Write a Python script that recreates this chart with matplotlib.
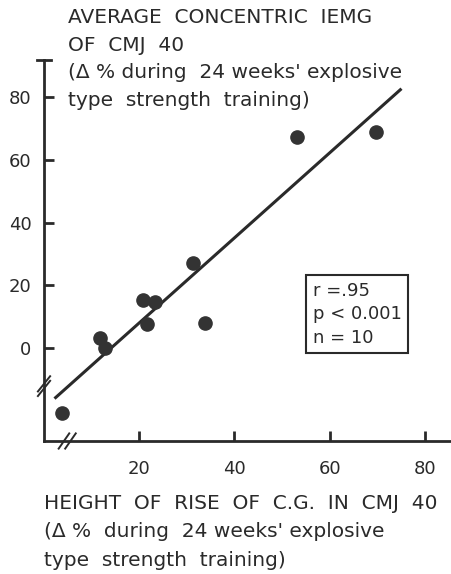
import numpy as np
import matplotlib.pyplot as plt

# height of rise of C.G. (delta %) vs average concentric IEMG (delta %)
rise_pct = [3.8, 11.8, 12.9, 20.8, 21.7, 23.4, 31.2, 33.9, 53.1, 69.7]
iemg_pct = [-20.8, 3.1, -0.1, 15.3, 7.7, 14.8, 27.0, 8.1, 67.4, 69.0]
fit_range = [2.2, 75.1]

x_ticks = [20, 40, 60, 80]
y_ticks = [0, 20, 40, 60, 80]

ink = '#2a2a2a'
plt.rcParams['font.family'] = ['DejaVu Sans']

fig = plt.figure(figsize=(4.51, 5.74), dpi=100)
ax = fig.add_axes([0.0976, 0.2317, 0.9024, 0.6638])

slope, icpt = np.polyfit(rise_pct, iemg_pct, 1)
fx = np.array(fit_range)
ax.plot(fx, slope * fx + icpt, color=ink, lw=2.2, solid_capstyle='butt')
ax.plot(rise_pct, iemg_pct, 'o', color='#333333', ms=9.5)

ax.set_xlim(0, 85.5)
ax.set_ylim(-29.7, 91.9)
ax.set_xticks(x_ticks)
ax.set_yticks(y_ticks)
ax.tick_params(direction='in', length=7, width=2, color=ink,
               labelsize=13, labelcolor=ink, pad=9)
ax.tick_params(axis='x', pad=14)
for s in ['top', 'right']:
    ax.spines[s].set_visible(False)
for s in ['left', 'bottom']:
    ax.spines[s].set_linewidth(2)
    ax.spines[s].set_color(ink)

# T cap on top of y axis
ax.plot([-0.018, 0.018], [1, 1], transform=ax.transAxes, color=ink, lw=2,
        clip_on=False)
# axis break marks
for dx in [-0.004, 0.012]:
    ax.plot([0.04 + dx, 0.066 + dx], [-0.02, 0.02], transform=ax.transAxes,
            color=ink, lw=1.4, clip_on=False)
for dy in [-0.012, 0.0]:
    ax.plot([-0.015, 0.015], [0.13 + dy, 0.17 + dy], transform=ax.transAxes,
            color=ink, lw=1.4, clip_on=False)

ax.text(0.66, 0.333, 'r =.95\np < 0.001\nn = 10', transform=ax.transAxes,
        fontsize=13, color=ink, va='center', ha='left', linespacing=1.4,
        bbox=dict(boxstyle='square,pad=0.35', fc='white', ec=ink, lw=1.5))

title = ("AVERAGE  CONCENTRIC  IEMG\nOF  CMJ  40\n"
         "(Δ % during  24 weeks' explosive\ntype  strength  training)")
fig.text(68 / 451, 1 - 8 / 574, title, fontsize=14.5, color=ink,
         va='top', ha='left', linespacing=1.57)

xlabel = ("HEIGHT  OF  RISE  OF  C.G.  IN  CMJ  40\n"
          "(Δ %  during  24 weeks' explosive\ntype  strength  training)")
fig.text(44 / 451, 1 - 494 / 574, xlabel, fontsize=14.5, color=ink,
         va='top', ha='left', linespacing=1.63)

fig.savefig('out.png', dpi=100, facecolor='white')
